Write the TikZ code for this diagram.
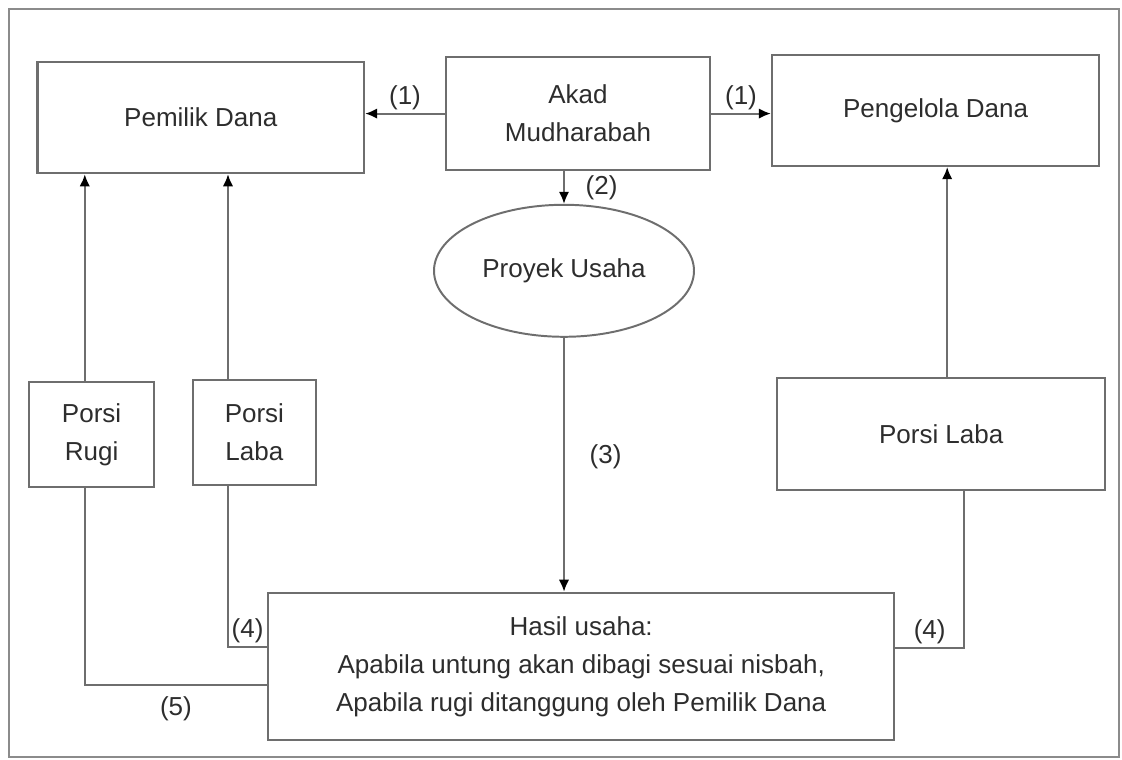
\documentclass[tikz,border=0pt]{standalone}
\usepackage{fontspec}
\setmainfont{Liberation Sans}
\usepackage{tikz}
\usetikzlibrary{arrows.meta,positioning,shapes.geometric}
\definecolor{ink}{RGB}{45,45,45}
\definecolor{edge}{RGB}{110,110,110}

\begin{document}
\begin{tikzpicture}[
  box/.style={rectangle, draw=edge, line width=1.6pt, align=center,
              inner sep=0pt, text=ink, font=\fontsize{18.5}{27}\selectfont},
  oval/.style={ellipse, draw=edge, line width=1.4pt, align=center,
              inner sep=0pt, text=ink, font=\fontsize{18.5}{27}\selectfont},
  arr/.style={-{Latex[length=3mm, width=2.6mm, color=black]}, line width=1.3pt, color=edge},
  line/.style={line width=1.3pt, color=edge},
  lbl/.style={text=ink, font=\fontsize{18.5}{22}\selectfont, inner sep=2pt}
]
\useasboundingbox (0,0) rectangle (28.05,19);
\draw[edge!80, line width=1.5pt] (0.22,0.08) rectangle (27.98,18.78);

% ── TOP ROW: parties and contract ─────────────
\node[box, minimum width=8.16cm, minimum height=2.78cm] (pemilik) at (5.02,16.06)
  {Pemilik Dana};
\node[box, minimum width=6.6cm, minimum height=2.83cm] (akad) at (14.45,16.16)
  {Akad\\Mudharabah};
\node[box, minimum width=8.18cm, minimum height=2.78cm] (pengelola) at (23.39,16.24)
  {Pengelola Dana};

% ── MIDDLE: project and portions ──────────
\node[oval, minimum width=6.5cm, minimum height=3.3cm] (proyek) at (14.1,12.23)
  {Proyek Usaha};
\node[box, minimum width=3.13cm, minimum height=2.63cm] (rugi) at (2.29,8.14)
  {Porsi\\Rugi};
\node[box, minimum width=3.08cm, minimum height=2.63cm] (labakiri) at (6.36,8.19)
  {Porsi\\Laba};
\node[box, minimum width=8.2cm, minimum height=2.8cm] (labakanan) at (23.53,8.15)
  {Porsi Laba};

% ── BOTTOM: business result ───────────────
\node[box, minimum width=15.65cm, minimum height=3.68cm] (hasil) at (14.53,2.34)
  {Hasil usaha:\\Apabila untung akan dibagi sesuai nisbah,\\Apabila rugi ditanggung oleh Pemilik Dana};

% helper columns and rows for the elbow lines
\coordinate (rk) at (2.12,0);
\coordinate (lk) at (5.7,0);
\coordinate (kn) at (23.68,0);
\coordinate (kb) at (24.1,0);
\coordinate (y4) at (0,2.83);
\coordinate (y5) at (0,1.875);
\coordinate (y4r) at (0,2.8);

% ── connectors ─────────────────────────────
\draw[arr] (akad.west) -- (akad.west -| pemilik.east)
  node[lbl, midway, above] {(1)};
\draw[arr] (akad.east) -- (akad.east -| pengelola.west)
  node[lbl, midway, above] {(1)};
\draw[arr] (akad.south -| proyek) -- (proyek.north)
  node[lbl, midway, right=0.45cm] {(2)};
\draw[arr] (proyek.south) -- (proyek.south |- hasil.north)
  node[lbl, pos=0.47, right=0.55cm] {(3)};

\draw[arr] (rugi.north -| rk) -- (pemilik.south -| rk);
\draw[arr] (labakiri.north -| lk) -- (pemilik.south -| lk);
\draw[arr] (labakanan.north -| kn) -- (pengelola.south -| kn);

\draw[line] (hasil.west |- y4) -| (labakiri.south -| lk)
  node[lbl, pos=0.25, above] {(4)};
\draw[line] (hasil.west |- y5) -| (rugi.south -| rk)
  node[lbl, pos=0.25, below=0.2cm] {(5)};
\draw[line] (hasil.east |- y4r) -| (labakanan.south -| kb)
  node[lbl, pos=0.25, above] {(4)};
\end{tikzpicture}
\end{document}
